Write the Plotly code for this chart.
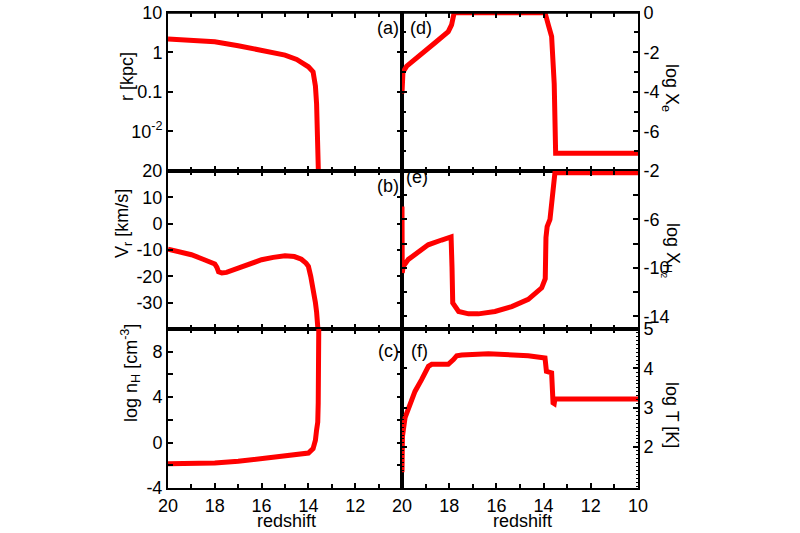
import plotly.graph_objects as go
from plotly.subplots import make_subplots

# ---- data ----
z_a = [20, 19, 18, 17, 16, 15, 14.5, 14.0, 13.8, 13.7, 13.65, 13.62, 13.6, 13.58, 13.57]
r_a = [2.16, 2.04, 1.85, 1.46, 1.14, 0.85, 0.66, 0.43, 0.32, 0.14, 0.05, 0.012, 0.003, 0.001, 0.0008]

z_b = [20, 19.5, 19, 18.5, 18, 17.91, 17.84, 17.7, 17.5, 17, 16.5, 16, 15.5, 15, 14.6, 14.3,
       14.1, 14.0, 13.9, 13.8, 13.7, 13.65, 13.6, 13.55]
v_b = [-9.7, -10.8, -11.8, -13.5, -15.3, -16.6, -18.3, -18.7, -18.5, -16.9, -15.2, -13.7,
       -12.8, -12.2, -12.5, -13.5, -15.0, -16.2, -20, -24, -30, -33.5, -40, -45]

z_c = [20, 19, 18, 17, 16, 15, 14.5, 14, 13.8, 13.7, 13.65, 13.6, 13.58, 13.56, 13.55]
n_c = [-1.87, -1.85, -1.8, -1.65, -1.42, -1.2, -1.07, -0.92, -0.53, 0.2, 1.1, 1.8, 3.5, 8.0, 12.0]

z_d = [20, 19.96, 19.8, 19.59, 19.17, 18.6, 18.04, 17.9, 17.79, 14.0, 13.94, 13.8, 13.66,
       13.55, 13.49, 10]
xe_d = [-4.08, -3.0, -2.7, -2.48, -2.05, -1.52, -0.96, -0.62, 0, 0, 0, -0.62, -1.2,
        -3.6, -7.1, -7.1]

z_e = [20, 19.99, 19.95, 19.73, 19.45, 18.89, 18.32, 17.92, 17.88, 17.85, 17.6, 17.18,
       16.76, 16.06, 15.35, 14.65, 14.08, 13.93, 13.9, 13.85, 13.73, 13.6, 13.52, 10]
h2_e = [-4.94, -10.42, -9.9, -9.3, -8.9, -8.1, -7.7, -7.45, -10, -12.9, -13.6, -13.8,
        -13.8, -13.6, -13.2, -12.6, -11.65, -10.9, -7.5, -6.6, -6.0, -3.8, -2.14, -2.14]

z_f = [20, 19.98, 19.87, 19.66, 19.45, 19.17, 18.88, 18.74, 18.04, 17.82, 17.68, 17.47,
       16.34, 14.65, 13.94, 13.88, 13.66, 13.6, 13.55, 13.52, 10]
t_f = [1.35, 2.27, 2.74, 3.12, 3.41, 3.71, 4.05, 4.1, 4.1, 4.22, 4.32, 4.34,
       4.37, 4.32, 4.26, 3.92, 3.88, 3.12, 3.1, 3.22, 3.22]

x_ticks_left = [20, 18, 16, 14, 12]
x_ticks_right = [20, 18, 16, 14, 12, 10]
a_ticks = [0.01, 0.1, 1, 10]
a_labels = ["10<sup>-2</sup>", "0.1", "1", "10"]
b_ticks = [20, 10, 0, -10, -20, -30]
c_ticks = [-4, 0, 4, 8]
d_ticks = [0, -2, -4, -6]
e_ticks = [-2, -6, -10, -14]
f_ticks = [2, 3, 4, 5]

# ---- figure ----
W, H = 800, 533
FONT = "Liberation Sans, Arial, sans-serif"
fig = make_subplots(rows=3, cols=2, horizontal_spacing=0, vertical_spacing=0)

series = [
    (z_a, r_a, 1, 1), (z_d, xe_d, 1, 2),
    (z_b, v_b, 2, 1), (z_e, h2_e, 2, 2),
    (z_c, n_c, 3, 1), (z_f, t_f, 3, 2),
]
for zx, yy, r, c in series:
    fig.add_trace(go.Scatter(x=zx, y=yy, mode="lines",
                             line=dict(color="#ff0000", width=5),
                             showlegend=False, hoverinfo="skip"), row=r, col=c)


def px(x):
    return x / W


def py(y):
    return (H - y) / H


xl = [px(168), px(402)]
xr = [px(402), px(638)]
rows_px = [(12.7, 171), (171, 329), (329, 488)]
ydom = [[py(b), py(t)] for t, b in rows_px]

axis_common = dict(showline=True, linecolor="black", linewidth=2, mirror="ticks",
                   ticks="inside", ticklen=5, tickwidth=1.5, tickcolor="black",
                   showgrid=False, zeroline=False, automargin=False,
                   tickfont=dict(family=FONT, size=18, color="black"))


def lab(vals):
    return [str(v) for v in vals]  # plain hyphen minus, as in the reference


for r in range(1, 4):
    for c in range(1, 3):
        bottom = (r == 3)
        tv = x_ticks_left if c == 1 else x_ticks_right
        fig.update_xaxes(row=r, col=c, range=[20, 10], autorange=False,
                         domain=xl if c == 1 else xr,
                         tickmode="array", tickvals=tv, ticktext=lab(tv),
                         showticklabels=bottom,
                         minor=dict(dtick=1, tick0=0, ticks="inside", ticklen=4,
                                    tickwidth=1.5, tickcolor="black"),
                         **axis_common)


def minor(dt, ln=5, w=1.5):
    return dict(dtick=dt, tick0=0, ticks="inside", ticklen=ln, tickwidth=w,
                tickcolor="black")


fig.update_yaxes(row=1, col=1, type="log", range=[-3, 1], domain=ydom[0],
                 tickmode="array", tickvals=a_ticks, ticktext=a_labels, **axis_common)
fig.update_yaxes(row=2, col=1, range=[-40, 20], domain=ydom[1],
                 tickmode="array", tickvals=b_ticks, ticktext=lab(b_ticks), **axis_common)
fig.update_yaxes(row=3, col=1, range=[-4, 10], domain=ydom[2],
                 tickmode="array", tickvals=c_ticks, ticktext=lab(c_ticks),
                 minor=minor(2), **axis_common)
fig.update_yaxes(row=1, col=2, range=[-8, 0], domain=ydom[0], side="right",
                 tickmode="array", tickvals=d_ticks, ticktext=lab(d_ticks),
                 minor=minor(1, 4), **axis_common)
fig.update_yaxes(row=2, col=2, range=[-15.05, -2], domain=ydom[1], side="right",
                 tickmode="array", tickvals=e_ticks, ticktext=lab(e_ticks),
                 minor=minor(2), **axis_common)
fig.update_yaxes(row=3, col=2, range=[0.95, 5], domain=ydom[2], side="right",
                 tickmode="array", tickvals=f_ticks, ticktext=lab(f_ticks),
                 minor=minor(0.1, 2, 1), **axis_common)

# top frame edge of the upper panels (coincides with the mirrored axis line)
fig.add_shape(type="line", xref="paper", yref="paper",
              x0=px(167), x1=px(639), y0=py(12.7), y1=py(12.7),
              line=dict(color="black", width=2), layer="above")

annots = [
    ("(a)", 388, 28, 0), ("(b)", 388, 186, 0), ("(c)", 388, 351, 0),
    ("(d)", 421, 28, 0), ("(e)", 417, 177, 0), ("(f)", 419, 351, 0),
    ("r [kpc]", 127, 77, -90),
    ("V<sub>r</sub> [km/s]", 124, 224, -90),
    ("log n<sub>H</sub> [cm<sup>-3</sup>]", 130, 373, -90),
    ("log X<sub>e</sub>", 671, 88, 90),
    ("log X<sub>H<sub>2</sub></sub>", 671, 250, 90),
    ("log T [K]", 672, 415, 90),
    ("redshift", 286, 521, 0),
    ("redshift", 522, 521, 0),
]
for txt, x, y, ang in annots:
    fig.add_annotation(text=txt, x=px(x), y=py(y), xref="paper", yref="paper",
                       showarrow=False, textangle=ang, xanchor="center", yanchor="middle",
                       font=dict(family=FONT, size=18, color="black"))

fig.update_layout(width=W, height=H, margin=dict(l=0, r=0, t=0, b=0),
                  paper_bgcolor="white", plot_bgcolor="white",
                  font=dict(family=FONT, size=18, color="black"))

# remove the page's default body margin so the 800x533 figure fills the window exactly
fig.write_html("out.html", config={"displayModeBar": False},
               post_script="document.body.style.margin='0px';")
